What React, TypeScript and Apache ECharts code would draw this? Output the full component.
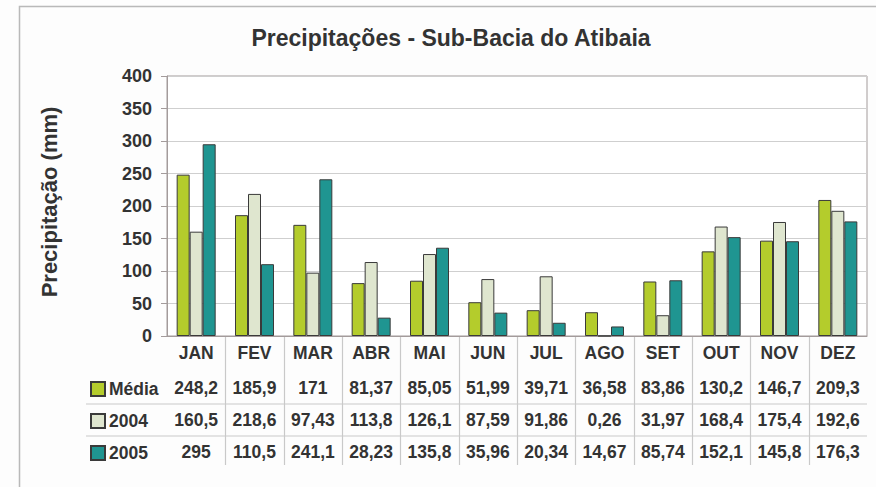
import React, { useEffect, useRef } from "react";
import * as echarts from "echarts";

const months = ["JAN", "FEV", "MAR", "ABR", "MAI", "JUN", "JUL", "AGO", "SET", "OUT", "NOV", "DEZ"];
const media = [248.2, 185.9, 171, 81.37, 85.05, 51.99, 39.71, 36.58, 83.86, 130.2, 146.7, 209.3];
const y2004 = [160.5, 218.6, 97.43, 113.8, 126.1, 87.59, 91.86, 0.26, 31.97, 168.4, 175.4, 192.6];
const y2005 = [295, 110.5, 241.1, 28.23, 135.8, 35.96, 20.34, 14.67, 85.74, 152.1, 145.8, 176.3];
const seriesNames = ["Média", "2004", "2005"];
const yTicks = { min: 0, max: 400, interval: 50 };
const titleText = "Precipitações - Sub-Bacia do Atibaia";
const yAxisTitle = "Precipitação (mm)";

const fmt = (v: number) => String(v).replace(".", ",");
const FONT = "'Liberation Sans', Arial, sans-serif";
const TXT = "#333333";

export default function App() {
  const ref = useRef<HTMLDivElement>(null);
  useEffect(() => {
    if (!ref.current) return;
    const chart = echarts.init(ref.current, undefined, { renderer: "svg" });
    const labelStyle = { color: TXT, fontFamily: FONT, fontWeight: "bold", fontSize: 17.5, margin: 8, interval: 0 };
    const rowAxis = (data: number[], offset: number) => ({
      type: "category",
      data: data.map(fmt),
      gridIndex: 0,
      position: "bottom",
      offset,
      axisLine: { show: false },
      axisTick: { show: false },
      splitLine: { show: false },
      axisLabel: labelStyle,
    });
    const barStyle = (color: string) => ({ color, borderColor: "#3a3a3a", borderWidth: 1 });
    const option: any = {
      animation: false,
      backgroundColor: "#fdfdfd",
      textStyle: { fontFamily: FONT },
      legend: {
        orient: "vertical",
        left: 90,
        top: 380,
        padding: 0,
        itemWidth: 14,
        itemHeight: 14,
        itemGap: 14,
        icon: "rect",
        data: seriesNames,
        textStyle: { color: TXT, fontFamily: FONT, fontWeight: "bold", fontSize: 17.5, padding: [0, 0, 0, -1] },
      },
      grid: {
        left: 167,
        top: 76,
        right: 9,
        bottom: 151,
        show: true,
        borderColor: "#a39b9b",
        borderWidth: 1,
        backgroundColor: "#ffffff",
      },
      xAxis: [
        {
          type: "category",
          data: months,
          axisLine: { show: true, lineStyle: { color: "#a39b9b" } },
          axisTick: { show: false },
          axisLabel: labelStyle,
        },
        rowAxis(media, 35),
        rowAxis(y2004, 67),
        rowAxis(y2005, 99),
      ],
      yAxis: {
        type: "value",
        min: yTicks.min,
        max: yTicks.max,
        interval: yTicks.interval,
        axisLine: { show: true, lineStyle: { color: "#a39b9b" } },
        axisTick: { show: true, length: 6, lineStyle: { color: "#a39b9b" } },
        axisLabel: { color: TXT, fontFamily: FONT, fontWeight: "bold", fontSize: 18, margin: 15 },
        splitLine: { lineStyle: { color: "#cfcfcf", width: 1 } },
      },
      series: [
        { name: "Média", type: "bar", data: media, barWidth: 13, barGap: "0%", itemStyle: barStyle("#b4cc2c") },
        { name: "2004", type: "bar", data: y2004, barWidth: 13, barGap: "0%", itemStyle: barStyle("#dfe6cf") },
        { name: "2005", type: "bar", data: y2005, barWidth: 13, barGap: "0%", itemStyle: barStyle("#1f9591") },
      ],
    };
    chart.setOption(option);

    // table separators derived from the axis scales
    const xs = months.map((_, i) => chart.convertToPixel({ xAxisIndex: 0 }, i) as number);
    const y0 = chart.convertToPixel({ yAxisIndex: 0 }, 0) as number;
    const step = xs.length > 1 ? xs[1] - xs[0] : 58;
    const right = xs[xs.length - 1] + step / 2;
    const lineStyle = { stroke: "#c9c9c9", lineWidth: 1.2 };
    const graphics: any[] = [];
    for (let i = 1; i < xs.length; i++) {
      const bx = Math.round((xs[i - 1] + xs[i]) / 2) + 0.5;
      graphics.push({ type: "line", shape: { x1: bx, y1: y0, x2: bx, y2: y0 + 129 }, style: lineStyle, silent: true });
    }
    [68, 100].forEach((dy) => {
      graphics.push({ type: "line", shape: { x1: 86, y1: y0 + dy, x2: right, y2: y0 + dy }, style: lineStyle, silent: true });
    });
    graphics.push({
      type: "polyline",
      shape: { points: [[19.5, 487], [19.5, 6.5], [876, 6.5]] },
      style: { stroke: "#b9b9b9", lineWidth: 1.5, fill: null },
      silent: true,
    });
    graphics.push({
      type: "text",
      x: 451,
      y: 38,
      style: {
        text: titleText,
        fill: TXT,
        font: `bold 23px ${FONT}`,
        align: "center",
        verticalAlign: "middle",
      },
      silent: true,
    });
    graphics.push({
      type: "text",
      x: 49,
      y: 202,
      rotation: Math.PI / 2,
      style: {
        text: yAxisTitle,
        fill: TXT,
        font: `bold 22px ${FONT}`,
        align: "center",
        verticalAlign: "middle",
      },
      silent: true,
    });
    chart.setOption({ graphic: graphics });

    return () => chart.dispose();
  }, []);
  return (
    <div
      ref={ref}
      style={{ position: "fixed", left: 0, top: 0, width: 876, height: 487 }}
    />
  );
}
